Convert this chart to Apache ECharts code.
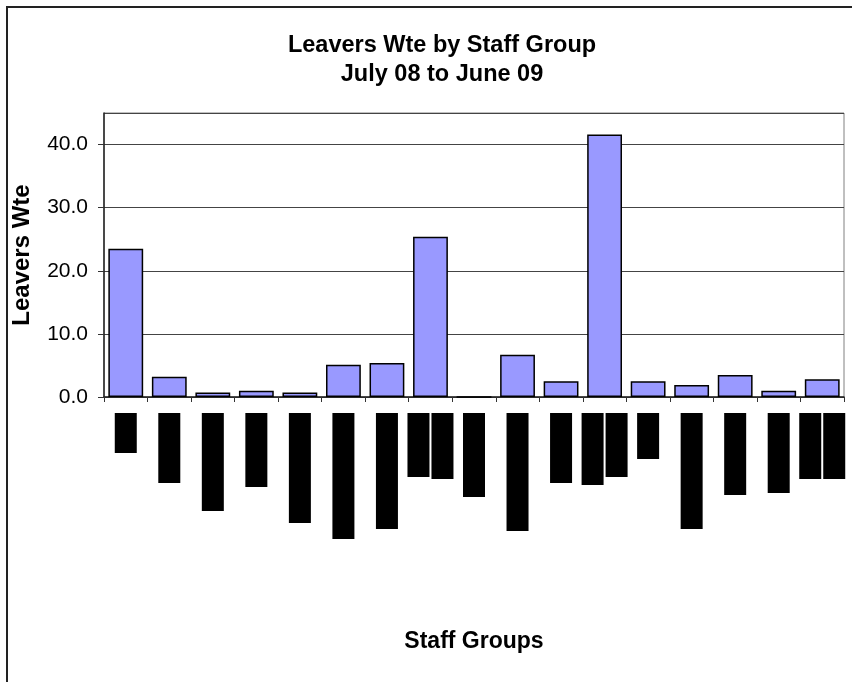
<!DOCTYPE html>
<html>
<head>
<meta charset="utf-8">
<title>Leavers Wte by Staff Group</title>
<script src="https://cdn.jsdelivr.net/npm/echarts@6/dist/echarts.min.js"></script>
<style>
  html, body { margin: 0; padding: 0; background: #fff; }
  #frame {
    position: absolute; left: 6px; top: 6px; width: 900px; height: 900px;
    border-left: 2px solid #222; border-top: 2px solid #222;
  }
  #main { position: absolute; left: 0; top: 0; width: 852px; height: 682px; }
</style>
</head>
<body>
<div id="frame"></div>
<div id="main"></div>
<script>
// 数据 (category names are redacted in the source picture)
const categories = [
  "Group 1", "Group 2", "Group 3", "Group 4", "Group 5", "Group 6",
  "Group 7", "Group 8", "Group 9", "Group 10", "Group 11", "Group 12",
  "Group 13", "Group 14", "Group 15", "Group 16", "Group 17"
];
const leaversWte = [
  23.5, 3.2, 0.7, 1.0, 0.7, 5.1, 5.4, 25.4, 0.0,
  6.7, 2.5, 41.6, 2.5, 1.9, 3.5, 1.0, 2.8
];
const yTicks = [0, 10, 20, 30, 40];

// 样式: black boxes standing for the redacted labels (px per text line)
const redactBox = [
  [40], [70], [98], [74], [110], [126], [116], [64, 66], [84],
  [118], [70], [72, 64], [46], [116], [82], [80], [66, 66]
];

const FONT = "'Liberation Sans', Arial, sans-serif";

// rich styles for each box length
const rich = {};
redactBox.forEach(lines => lines.forEach(len => {
  rich["r" + len] = {
    width: len, height: 22, lineHeight: 24,
    backgroundColor: "#000", color: "#000", fontSize: 10
  };
}));

const chart = echarts.init(document.getElementById("main"));

chart.setOption({
  animation: false,
  backgroundColor: "transparent",
  title: {
    text: "Leavers Wte by Staff Group\nJuly 08 to June 09",
    left: 437, top: 26, textAlign: "center",
    textStyle: {
      fontFamily: FONT, fontSize: 23.5, fontWeight: "bold",
      color: "#000", lineHeight: 29
    }
  },
  grid: { left: 104, right: 8, top: 113, bottom: 285, show: true,
          borderColor: "#808080", borderWidth: 1 },
  xAxis: {
    type: "category",
    data: categories,
    name: "Staff Groups",
    nameLocation: "middle",
    nameGap: 233,
    nameTextStyle: { fontFamily: FONT, fontSize: 23, fontWeight: "bold", color: "#000" },
    axisLine: { lineStyle: { color: "#222", width: 1.5 } },
    axisTick: { show: true, interval: 0, length: 5, lineStyle: { color: "#333" } },
    axisLabel: {
      interval: 0, rotate: 90, margin: 16,
      formatter: (v, i) => redactBox[i].map(len => "{r" + len + "|\u00a0}").join("\n"),
      rich: rich
    }
  },
  yAxis: {
    type: "value",
    min: 0, max: 45, interval: 10,
    name: "Leavers Wte",
    nameLocation: "middle",
    nameGap: 70,
    nameTextStyle: { fontFamily: FONT, fontSize: 24, fontWeight: "bold", color: "#000" },
    axisLine: { show: true, lineStyle: { color: "#222", width: 1.5 } },
    axisTick: { show: true, length: 6, lineStyle: { color: "#333" } },
    axisLabel: {
      margin: 16, showMaxLabel: false,
      fontFamily: FONT, fontSize: 21, color: "#000",
      formatter: v => (yTicks.includes(v) ? v.toFixed(1) : "")
    },
    splitLine: { lineStyle: { color: "#444", width: 1 } }
  },
  series: [{
    type: "bar",
    name: "Leavers Wte",
    data: leaversWte,
    barCategoryGap: "20%",
    itemStyle: { color: "#9999FF", borderColor: "#000", borderWidth: 1.5 }
  }]
});
</script>
</body>
</html>
